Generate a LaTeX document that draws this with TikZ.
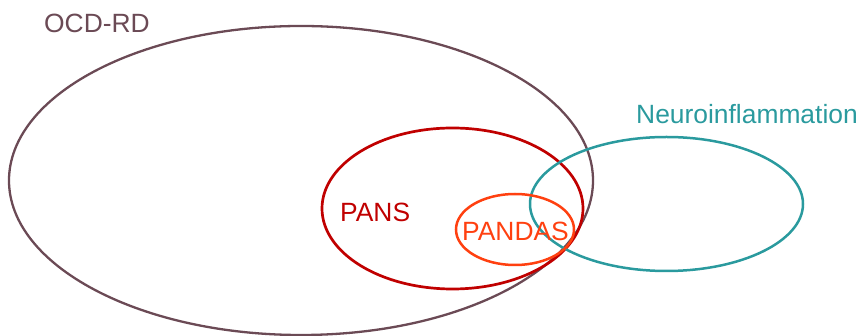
\documentclass[tikz,border=0pt]{standalone}
\usepackage{fontspec}
\setmainfont{Liberation Sans}
\usetikzlibrary{shapes.geometric}
\definecolor{ocdcol}{HTML}{6B4A55}
\definecolor{panscol}{HTML}{C00000}
\definecolor{pandascol}{HTML}{FF4010}
\definecolor{neurocol}{HTML}{2A9A9E}
\tikzset{
  setring/.style={draw, ellipse, inner sep=0pt, outer sep=0pt, fill=none},
  setlabel/.style={inner sep=0pt, font=\fontsize{26.4}{30}\selectfont},
}
\begin{document}
\begin{tikzpicture}[x=1pt, y=-1pt]
\useasboundingbox (0,0) rectangle (863,336);
% overlapping sets
\node[setring, ocdcol, line width=2.3pt, minimum width=584pt, minimum height=309pt] (ocd) at (301,180.5) {};
\node[setring, panscol, line width=2.7pt, minimum width=261pt, minimum height=161pt] (pans) at (452.5,208.5) {};
\node[setring, neurocol, line width=2.5pt, minimum width=273pt, minimum height=134pt] (neuro) at (666.5,204) {};
\node[setring, pandascol, line width=2.5pt, minimum width=118pt, minimum height=71pt] (pandas) at (515,229.5) {};
% set names
\node[setlabel, ocdcol, anchor=west] (ocdtxt) at (44,23.5) {OCD-RD};
\node[setlabel, neurocol, anchor=west] (neurotxt) at (636,114.5) {Neuroinflammation};
\node[setlabel, panscol, anchor=west] (panstxt) at (340,212.5) {PANS};
\node[setlabel, pandascol, anchor=west] (pandastxt) at (462,231) {PANDAS};
\end{tikzpicture}
\end{document}
